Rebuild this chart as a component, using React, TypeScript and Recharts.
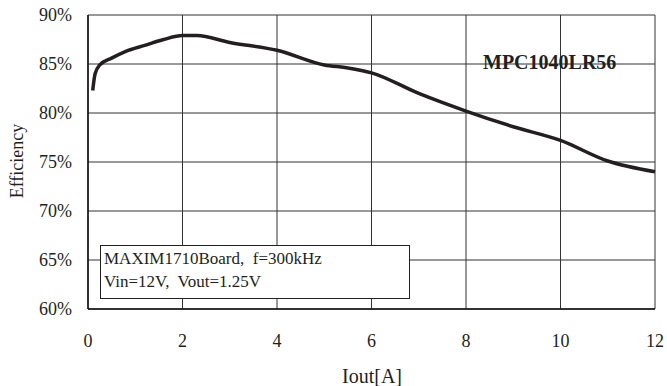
import React from "react";
import {
  LineChart,
  Line,
  XAxis,
  YAxis,
  CartesianGrid,
} from "recharts";

const currents = [0.1, 0.15, 0.25, 0.5, 0.8, 1.2, 1.6, 2.0, 2.3, 3, 4, 5, 5.5, 6, 7, 8, 9, 10, 11, 12];
const efficiency = [82.3, 84.0, 84.9, 85.6, 86.3, 86.9, 87.5, 87.9, 87.9, 87.2, 86.4, 84.9, 84.6, 84.1, 82.0, 80.2, 78.6, 77.2, 75.1, 74.0];
const xTicks = [0, 2, 4, 6, 8, 10, 12];
const yTicks = [60, 65, 70, 75, 80, 85, 90];

const seriesName = "MPC1040LR56";
const noteLines = ["MAXIM1710Board,  f=300kHz", "Vin=12V,  Vout=1.25V"];

const data = currents.map((x, i) => ({ x, eff: efficiency[i] }));

const FONT = '"Liberation Serif", "Times New Roman", serif';

const App: React.FC = () => {
  return (
    <div
      style={{
        position: "absolute",
        left: 0,
        top: 0,
        width: 667,
        height: 386,
        background: "#fff",
        fontFamily: FONT,
        color: "#231f20",
      }}
    >
      <LineChart
        width={667}
        height={386}
        data={data}
        margin={{ top: 15, right: 12, bottom: 0, left: 0 }}
      >
        <CartesianGrid stroke="#333" strokeWidth={1} />
        <XAxis
          dataKey="x"
          type="number"
          domain={[0, 12]}
          ticks={xTicks}
          height={77}
          tickSize={0}
          tickMargin={25}
          axisLine={{ stroke: "#111", strokeWidth: 1.5 }}
          tick={{ fill: "#231f20", fontSize: 18, fontFamily: FONT }}
        />
        <YAxis
          type="number"
          domain={[60, 90]}
          ticks={yTicks}
          width={88}
          tickSize={0}
          tickMargin={16}
          tickFormatter={(v: number) => `${v}%`}
          axisLine={{ stroke: "#111", strokeWidth: 1.5 }}
          tick={{ fill: "#231f20", fontSize: 18, fontFamily: FONT }}
        />
        <Line
          dataKey="eff"
          type="monotone"
          stroke="#231f20"
          strokeWidth={3.5}
          dot={false}
          isAnimationActive={false}
        />
      </LineChart>

      <div
        style={{
          position: "absolute",
          left: 372,
          top: 376,
          transform: "translate(-50%, -50%)",
          fontSize: 20,
          whiteSpace: "nowrap",
        }}
      >
        Iout[A]
      </div>
      <div
        style={{
          position: "absolute",
          left: 17,
          top: 161,
          transform: "translate(-50%, -50%) rotate(-90deg)",
          fontSize: 18,
          whiteSpace: "nowrap",
        }}
      >
        Efficiency
      </div>
      <div
        style={{
          position: "absolute",
          left: 483,
          top: 62,
          transform: "translateY(-50%)",
          fontSize: 20,
          fontWeight: "bold",
          whiteSpace: "nowrap",
        }}
      >
        {seriesName}
      </div>
      <div
        style={{
          position: "absolute",
          left: 100,
          top: 245,
          width: 305,
          height: 51,
          border: "1px solid #231f20",
          background: "#fff",
          paddingLeft: 3,
          paddingTop: 1,
          boxSizing: "content-box",
          fontSize: 17,
          lineHeight: "23px",
        }}
      >
        {noteLines.map((t) => (
          <div key={t} style={{ whiteSpace: "pre" }}>
            {t}
          </div>
        ))}
      </div>
    </div>
  );
};

export default App;
